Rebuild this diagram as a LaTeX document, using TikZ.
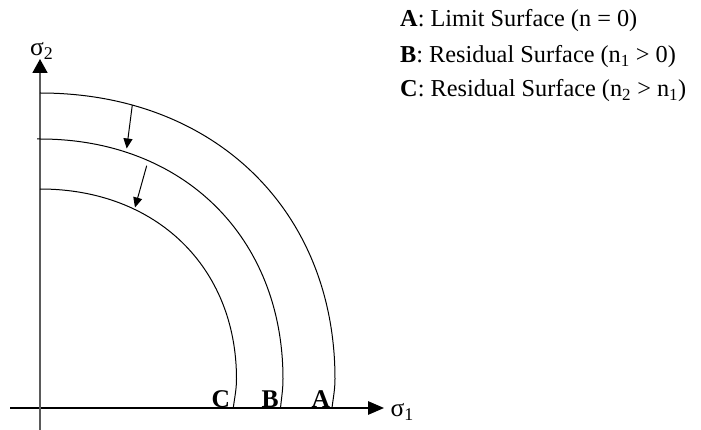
\documentclass[tikz,border=0pt]{standalone}
\usepackage{fontspec}
\setmainfont{Liberation Serif}
\usetikzlibrary{arrows.meta}
\definecolor{axisgray}{RGB}{90,90,90}
\begin{document}
\begin{tikzpicture}[x=1pt,y=-1pt,
  surface/.style={line width=1pt, black},
  shiftarrow/.style={line width=1pt, black, -{Triangle[length=10pt,width=9pt]}},
  lbl/.style={inner sep=0pt, anchor=base west, font=\fontsize{24.3}{29}\selectfont},
  axlbl/.style={inner sep=0pt, anchor=base west, font=\fontsize{25.5}{30}\selectfont},
]
\useasboundingbox (0,0) rectangle (701,430);

% axes
\coordinate (xs) at (10,408);
\coordinate (xe) at (384,408);
\coordinate (ys) at (40,430);
\coordinate (ye) at (40,59);
\draw[line width=1.3pt, black, -{Triangle[length=16pt,width=13.5pt]}] (xs) -- (xe);
\draw[line width=1.8pt, axisgray, -{Triangle[length=14pt,width=15pt,color=black]}] (ys) -- (ye);

% surfaces
\draw[surface] (40,93) .. controls (214.1,93) and (335,210.3) .. (335,379)
  .. controls (335,390) and (333,399) .. (332,408);
\draw[surface] (37,139) -- (40,139) .. controls (183.4,139) and (283,237.4) .. (283,379)
  .. controls (283,390) and (281.3,399) .. (280.5,408);
\draw[surface] (40,189) .. controls (155.9,189) and (236.5,266.9) .. (236.5,379)
  .. controls (236.5,390) and (234.3,399) .. (233.3,408);

% shift arrows
\coordinate (a1s) at (132.3,105);
\coordinate (a1e) at (126.7,148.5);
\coordinate (a2s) at (146.7,165.7);
\coordinate (a2e) at (135,207.5);
\draw[shiftarrow] (a1s) -- (a1e);
\draw[shiftarrow] (a2s) -- (a2e);

% surface labels
\node[axlbl] (lC) at (211.5,407) {\bfseries C};
\node[axlbl] (lB) at (261.5,407) {\bfseries B};
\node[axlbl] (lA) at (311.5,407) {\bfseries A};

% axis labels
\node[axlbl] (s2) at (30,56) {σ\textsubscript{2}};
\node[axlbl] (s1) at (390.5,416.5) {σ\textsubscript{1}};

% legend
\node[lbl] (legA) at (400,27) {\textbf{A}: Limit Surface (n = 0)};
\node[lbl] (legB) at (400,62.5) {\textbf{B}: Residual Surface (n\textsubscript{1} > 0)};
\node[lbl] (legC) at (400,97) {\textbf{C}: Residual Surface (n\textsubscript{2} > n\textsubscript{1})};
\end{tikzpicture}
\end{document}
